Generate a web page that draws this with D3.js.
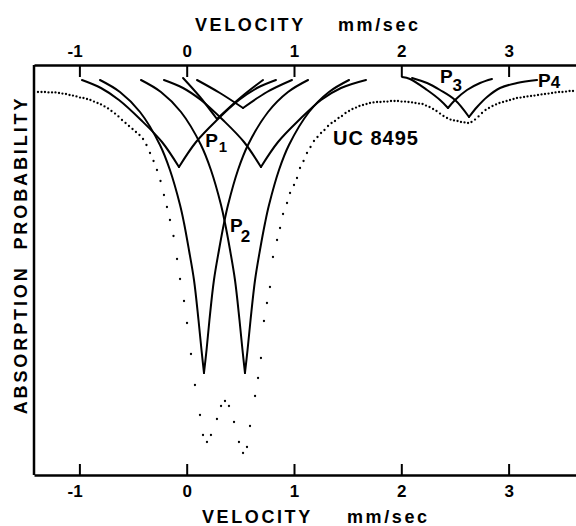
<!DOCTYPE html>
<html><head><meta charset="utf-8">
<script src="https://cdn.jsdelivr.net/npm/d3@7"></script>
<style>body{margin:0;background:#fff}svg{display:block}</style>
</head><body><svg id="c" width="576" height="526"></svg>
<script>
// ---------- data ----------
const velocityTicks = [-1, 0, 1, 2, 3];

// experimental points (velocity mm/s, relative absorption)
const dataVel = [-1.386,-1.353,-1.321,-1.288,-1.255,-1.223,-1.190,-1.158,-1.125,-1.092,-1.060,-1.027,-0.994,-0.962,-0.929,-0.897,-0.864,-0.831,-0.799,-0.766,-0.733,-0.701,-0.668,-0.636,-0.603,-0.570,-0.538,-0.505,-0.473,-0.440,-0.407,-0.375,-0.342,-0.309,-0.277,-0.244,-0.212,-0.184,-0.156,-0.123,-0.090,-0.062,-0.025,0.003,0.040,0.077,0.124,0.152,0.189,0.226,0.282,0.320,0.357,0.394,0.441,0.487,0.525,0.562,0.590,0.637,0.665,0.692,0.720,0.748,0.776,0.804,0.842,0.870,0.898,0.935,0.963,1.000,1.028,1.056,1.089,1.121,1.154,1.186,1.219,1.252,1.284,1.317,1.350,1.382,1.415,1.447,1.480,1.513,1.545,1.578,1.610,1.643,1.676,1.708,1.741,1.774,1.806,1.839,1.871,1.904,1.937,1.969,2.002,2.035,2.067,2.100,2.132,2.165,2.198,2.230,2.263,2.296,2.328,2.361,2.393,2.426,2.459,2.491,2.524,2.556,2.589,2.622,2.654,2.687,2.720,2.752,2.785,2.817,2.850,2.883,2.915,2.948,2.981,3.013,3.046,3.078,3.111,3.144,3.176,3.209,3.241,3.274,3.307,3.339,3.372,3.405,3.437,3.470,3.502,3.535,3.568,3.600];
const dataAbs = [3.5,3.5,3.5,3.6,3.6,3.6,3.75,3.9,4.0,4.25,4.4,4.6,4.9,5.0,5.25,5.5,5.9,6.25,6.6,7.1,7.6,8.25,8.9,9.6,10.5,11.25,12.0,12.75,13.5,14.25,15.25,16.75,18.75,20.75,23,25.75,29.25,32.25,35.5,39.5,45.25,50.25,55.75,61.25,69,76.75,84.25,89.25,91,89.25,85.25,82,80.75,82,86,91,93.75,92.25,87,79.5,75,70,60.75,56.25,52.25,44.75,40.5,37.5,34,31.25,28.75,26.75,25,22.5,20.75,18.75,17.25,15.75,14.75,13.75,13,12,11.25,10.75,10,9.5,8.75,8.25,7.75,7.4,7,6.75,6.5,6.25,6.1,6,6,5.9,5.9,5.75,5.75,5.75,5.9,5.9,6,6.1,6.25,6.4,6.5,6.9,7.25,7.75,8.25,8.9,9.5,10,10.4,10.6,10.75,11,11.1,11.25,11,10.4,9.6,8.75,8,7.5,7,6.6,6.25,6,5.75,5.5,5.25,5,4.9,4.75,4.6,4.5,4.4,4.25,4.1,4,3.9,3.75,3.6,3.5,3.5,3.4,3.25,3.25];

// fitted component lines, [velocity, absorption]; the minimum point splits the two arms
const lineD1 = [[-0.808,0.5],[-0.622,3.5],[-0.435,8.5],[-0.249,16.75],[-0.156,23],[-0.062,31.75],[-0.025,36.25],[0.021,43],[0.068,50.5],[0.110,60.5],[0.138,68],[0.161,73.75],[0.185,68],[0.212,60.5],[0.254,50.5],[0.301,43],[0.348,36.25],[0.385,31.75],[0.478,23],[0.571,16.75],[0.758,8.5],[0.944,3.5],[1.131,0.5]];
const lineD2 = [[-0.426,0.5],[-0.240,3.5],[-0.053,8.5],[0.133,16.75],[0.226,23],[0.320,31.75],[0.357,36.25],[0.404,43],[0.450,50.5],[0.492,60.5],[0.520,68],[0.543,73.75],[0.567,68],[0.595,60.5],[0.637,50.5],[0.683,43],[0.730,36.25],[0.767,31.75],[0.860,23],[0.953,16.75],[1.140,8.5],[1.326,3.5],[1.513,0.5]];
const lineM1 = [[-0.976,0.5],[-0.799,2.5],[-0.631,5.5],[-0.426,10.5],[-0.230,16],[-0.072,22.25],[0.087,16],[0.282,10.5],[0.487,5.5],[0.655,2.5],[0.832,0.5]];
const lineM2 = [[-0.212,0.5],[-0.034,2.5],[0.133,5.5],[0.338,10.5],[0.534,16],[0.692,22.25],[0.851,16],[1.047,10.5],[1.252,5.5],[1.438,2.5],[1.671,0.5]];
const lineS1 = [[-0.034,0],[0.124,4.75],[0.282,10.25],[0.497,5],[0.711,0.5]];
const lineS2 = [[0.096,0.5],[0.310,3.75],[0.525,7.5],[0.748,3.5],[0.981,0.5]];
const lineP3 = [[2.007,-0.25],[2.081,0.25],[2.240,3],[2.361,5.5],[2.435,7.5],[2.501,5.5],[2.612,3],[2.734,1.25],[2.845,0.25]];
const lineP4 = [[2.100,0],[2.240,1.25],[2.361,3],[2.501,5.5],[2.631,9.75],[2.706,7.25],[2.799,4.75],[2.920,2.5],[3.078,1.25],[3.265,0.5]];
const componentLines = [lineD1, lineD2, lineM1, lineM2, lineS1, lineS2, lineP3, lineP4];

// ---------- drawing ----------
const svg = d3.select('#c');
const x = d3.scaleLinear().domain([-1.423, 3.628]).range([34, 576]);
const y = d3.scaleLinear().domain([-3.25, 99.25]).range([65, 475]);
const FONT = "'Liberation Sans', Arial, sans-serif";

// frame (left side)
svg.append('line').attr('x1', x.range()[0]).attr('x2', x.range()[0])
  .attr('y1', y.range()[0]).attr('y2', y.range()[1])
  .attr('stroke', '#000').attr('stroke-width', 2.5);

function styleAxis(g) {
  g.select('.domain').attr('stroke', '#000').attr('stroke-width', 2.5);
  g.selectAll('.tick line').attr('stroke', '#000').attr('stroke-width', 2);
  g.selectAll('.tick text').attr('fill', '#000')
    .attr('font-family', FONT).attr('font-size', 17).attr('font-weight', 'bold')
    .attr('dx', d => d < 0 ? '-0.28em' : 0);
}
svg.append('g').attr('transform', `translate(0,${y.range()[0]})`)
  .call(d3.axisTop(x).tickValues(velocityTicks).tickFormat(d => String(d))
        .tickSizeInner(-12).tickSizeOuter(0).tickPadding(8))
  .call(styleAxis);
svg.append('g').attr('transform', `translate(0,${y.range()[1]})`)
  .call(d3.axisBottom(x).tickValues(velocityTicks).tickFormat(d => String(d))
        .tickSizeInner(-11).tickSizeOuter(0).tickPadding(10))
  .call(styleAxis);

// component lines: each arm drawn separately so minima stay sharp
const line = d3.line().x(d => x(d[0])).y(d => y(d[1])).curve(d3.curveCatmullRom.alpha(0.5));
componentLines.forEach(pts => {
  let k = 0;
  pts.forEach((p, i) => { if (p[1] > pts[k][1]) k = i; });
  [pts.slice(0, k + 1), pts.slice(k)].forEach(arm => {
    svg.append('path').attr('d', line(arm)).attr('fill', 'none')
      .attr('stroke', '#000').attr('stroke-width', 2).attr('stroke-linecap', 'round');
  });
});

// data points
svg.append('g').selectAll('circle').data(dataVel.map((v, i) => [v, dataAbs[i]]))
  .join('circle').attr('cx', d => x(d[0])).attr('cy', d => y(d[1]))
  .attr('r', 1.15).attr('fill', '#000');

// titles
function txt(t, px, py, size, extra) {
  const e = svg.append('text').attr('x', px).attr('y', py).text(t)
    .attr('font-family', FONT).attr('font-size', size).attr('font-weight', 'bold')
    .attr('fill', '#000');
  if (extra) extra(e);
  return e;
}
const ls = e => e.attr('letter-spacing', 2.6);
txt('VELOCITY', 195, 30.5, 18, ls);
txt('mm/sec', 338, 30.5, 18, ls);
txt('VELOCITY', 202, 523, 18, ls);
txt('mm/sec', 347, 523, 18, ls);

svg.append('text').attr('transform', 'translate(27,255) rotate(-90)')
  .attr('text-anchor', 'middle').attr('font-family', FONT).attr('font-size', 18)
  .attr('font-weight', 'bold').attr('letter-spacing', 2.9).attr('fill', '#000')
  .attr('xml:space', 'preserve').text('ABSORPTION  PROBABILITY');

// peak labels
function peak(main, sub, v, a, dx, dy, subSize) {
  const t = svg.append('text').attr('x', x(v)).attr('y', y(a))
    .attr('font-family', FONT).attr('font-size', 19).attr('font-weight', 'bold').attr('fill', '#000');
  t.append('tspan').text(main);
  t.append('tspan').attr('dx', dx).attr('dy', dy).attr('font-size', subSize).text(sub);
}
peak('P', '1', 0.172, 17.25, 1, 5, 15);
peak('P', '2', 0.404, 38.5, -2, 10, 17);
peak('P', '3', 2.360, 1.25, 0, 8, 17);
peak('P', '4', 3.274, 2.25, 0, 1, 17);

svg.append('text').attr('x', x(1.364)).attr('y', y(16.75)).text('UC 8495')
  .attr('font-family', FONT).attr('font-size', 20).attr('font-weight', 'bold')
  .attr('letter-spacing', 1).attr('fill', '#000');
</script></body></html>
